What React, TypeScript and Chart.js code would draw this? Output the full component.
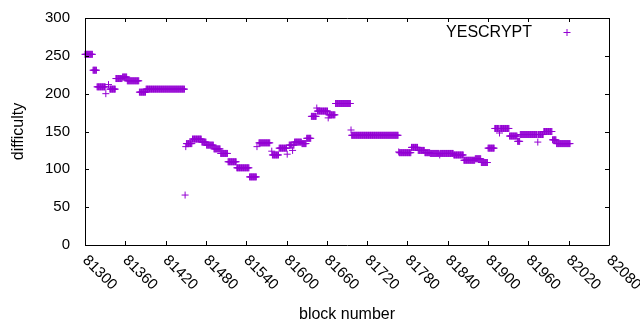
import { useEffect, useRef } from "react";
import { Chart, registerables } from "chart.js";

Chart.register(...registerables);

// Difficulty held over runs of blocks: [first block, last block, difficulty]
const runStart = [
  81300, 81312, 81318, 81331, 81335, 81337, 81346, 81356, 81363, 81381,
  81391, 81449, 81450, 81451, 81460, 81474, 81481, 81492, 81502, 81513,
  81526, 81545, 81556, 81559, 81578, 81579, 81589, 81601, 81604, 81609,
  81610, 81612, 81623, 81630, 81637, 81645, 81646, 81662, 81663, 81673,
  81696, 81697, 81767, 81768, 81786, 81796, 81806, 81814, 81828, 81829,
  81849, 81864, 81881, 81890, 81900, 81910, 81917, 81918, 81932, 81944,
  81948, 81974, 81975, 81983, 81996, 82002,
];
const runEnd = [
  81311, 81317, 81330, 81331, 81335, 81345, 81355, 81362, 81380, 81390,
  81448, 81449, 81450, 81459, 81473, 81480, 81491, 81501, 81512, 81525,
  81544, 81555, 81556, 81575, 81578, 81588, 81600, 81601, 81608, 81609,
  81611, 81622, 81629, 81636, 81644, 81645, 81661, 81662, 81672, 81695,
  81696, 81766, 81767, 81785, 81795, 81805, 81813, 81827, 81828, 81848,
  81863, 81880, 81889, 81899, 81909, 81916, 81917, 81931, 81943, 81947,
  81973, 81974, 81982, 81995, 82001, 82022,
];
const runValue = [
  252, 231, 209, 200, 212, 206, 220, 222, 217, 202,
  206, 66, 130, 134, 140, 136, 132, 127, 121, 110,
  102, 90, 130, 135, 124, 119, 128, 120, 132, 125,
  132, 136, 134, 141, 170, 181, 177, 168, 172, 187,
  152, 145, 123, 122, 129, 125, 122, 121, 119, 121,
  119, 112, 114, 109, 128, 154, 148, 154, 144, 137,
  146, 136, 146, 150, 139, 134,
];

const xTickLabels = [
  81300, 81360, 81420, 81480, 81540, 81600, 81660, 81720, 81780, 81840,
  81900, 81960, 82020, 82080,
];
const yTickLabels = [0, 50, 100, 150, 200, 250, 300];

const seriesName = "YESCRYPT";
const COLOR = "#9400d3";
const FONT = "'Liberation Sans', Arial, sans-serif";

export default function App() {
  const ref = useRef<HTMLCanvasElement | null>(null);

  useEffect(() => {
    document.body.style.margin = "0";
    const canvas = ref.current;
    if (!canvas) return;

    const points: { x: number; y: number }[] = [];
    for (let i = 0; i < runStart.length; i++) {
      for (let b = runStart[i]; b <= runEnd[i]; b++) {
        points.push({ x: b, y: runValue[i] });
      }
    }

    const framePlugin = {
      id: "gnuframe",
      afterDraw(chart: any) {
        const { ctx, chartArea } = chart;
        const { left, right, top, bottom } = chartArea;
        const xs = chart.scales.x;
        const ys = chart.scales.y;
        const tl = 4;
        ctx.save();
        ctx.strokeStyle = "#000";
        ctx.lineWidth = 1;
        ctx.beginPath();
        ctx.rect(Math.round(left) + 0.5, Math.round(top) + 0.5, Math.round(right - left), Math.round(bottom - top));
        for (const v of xTickLabels) {
          const px = Math.round(xs.getPixelForValue(v)) + 0.5;
          ctx.moveTo(px, bottom);
          ctx.lineTo(px, bottom - tl);
          ctx.moveTo(px, top);
          ctx.lineTo(px, top + tl);
        }
        for (const v of yTickLabels) {
          const py = Math.round(ys.getPixelForValue(v)) + 0.5;
          ctx.moveTo(left, py);
          ctx.lineTo(left + tl, py);
          ctx.moveTo(right, py);
          ctx.lineTo(right - tl, py);
        }
        ctx.stroke();

        // rotated x tick labels
        ctx.fillStyle = "#000";
        ctx.font = `15px ${FONT}`;
        ctx.textAlign = "left";
        ctx.textBaseline = "alphabetic";
        for (const v of xTickLabels) {
          const px = xs.getPixelForValue(v);
          ctx.save();
          ctx.translate(px - 3, bottom + 16);
          ctx.rotate(Math.PI / 4);
          ctx.fillText(String(v), 0, 0);
          ctx.restore();
        }

        // key
        ctx.font = `16px ${FONT}`;
        ctx.textAlign = "right";
        ctx.textBaseline = "middle";
        ctx.fillText(seriesName, 532, 33);
        ctx.strokeStyle = COLOR;
        ctx.beginPath();
        ctx.moveTo(563.5, 32.5);
        ctx.lineTo(570.5, 32.5);
        ctx.moveTo(567, 29);
        ctx.lineTo(567, 36);
        ctx.stroke();
        ctx.restore();
      },
    };

    const chart = new Chart(canvas, {
      type: "scatter",
      data: {
        datasets: [
          {
            label: seriesName,
            data: points,
            pointStyle: "cross",
            pointRadius: 3.5,
            pointHoverRadius: 3.5,
            pointBorderWidth: 1,
            borderColor: COLOR,
            backgroundColor: COLOR,
            clip: false as any,
          },
        ],
      },
      options: {
        responsive: false,
        animation: false,
        events: [],
        layout: { padding: { left: 0, right: 31, top: 18, bottom: 0 } },
        plugins: { legend: { display: false }, tooltip: { enabled: false } },
        scales: {
          x: {
            type: "linear",
            min: 81300,
            max: 82080,
            grid: { display: false, drawTicks: false },
            border: { display: false },
            ticks: { display: false },
            title: {
              display: true,
              text: "block number",
              color: "#000",
              font: { family: FONT, size: 16 },
              padding: { top: 0, bottom: 6 },
            },
            afterFit(scale: any) {
              scale.height = 85;
              scale.paddingLeft = 0;
              scale.paddingRight = 0;
            },
          },
          y: {
            min: 0,
            max: 300,
            grid: { display: false, drawTicks: false },
            border: { display: false },
            ticks: {
              stepSize: 50,
              color: "#000",
              font: { family: FONT, size: 15 },
              padding: 15,
            },
            title: {
              display: true,
              text: "difficulty",
              color: "#000",
              font: { family: FONT, size: 16 },
              padding: { top: 9, bottom: 0 },
            },
            afterFit(scale: any) {
              scale.width = 85;
              scale.paddingTop = 0;
              scale.paddingBottom = 0;
            },
          },
        },
      },
      plugins: [framePlugin],
    });

    return () => chart.destroy();
  }, []);

  return <canvas ref={ref} width={640} height={330} style={{ display: "block" }} />;
}
